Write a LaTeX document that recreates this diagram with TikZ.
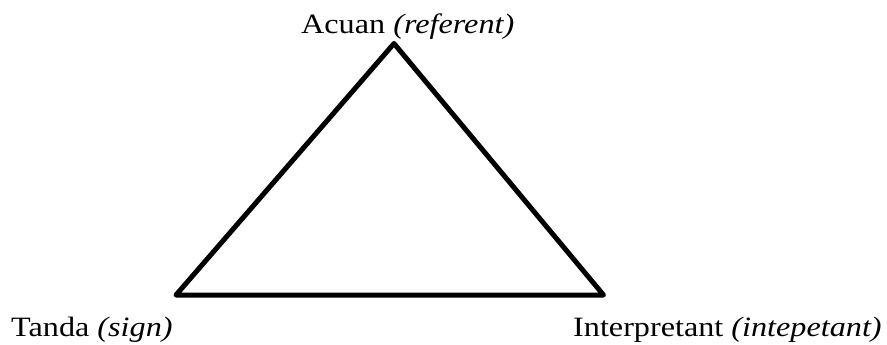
\documentclass[tikz,border=0pt]{standalone}
\usepackage{fontspec}
\setmainfont{Liberation Serif}[FakeStretch=1.15]
\begin{document}
\begin{tikzpicture}[x=1pt,y=-1pt,
  lbl/.style={anchor=base west,inner sep=0pt,font=\fontsize{28}{32}\selectfont},
  tri/.style={line width=5pt,line join=round}]
\useasboundingbox (0,0) rectangle (887,345);
\coordinate (A) at (394,43.5);
\coordinate (S) at (176,295);
\coordinate (I) at (603.5,295);
\draw[tri] (A) -- (S) -- (I) -- cycle;
\node[lbl] (la) at (301,34) {Acuan \textit{(referent)}};
\node[lbl] (ls) at (11,336) {Tanda \textit{(sign)}};
\node[lbl] (li) at (573,336) {Interpretant \textit{(intepetant)}};
\end{tikzpicture}
\end{document}
